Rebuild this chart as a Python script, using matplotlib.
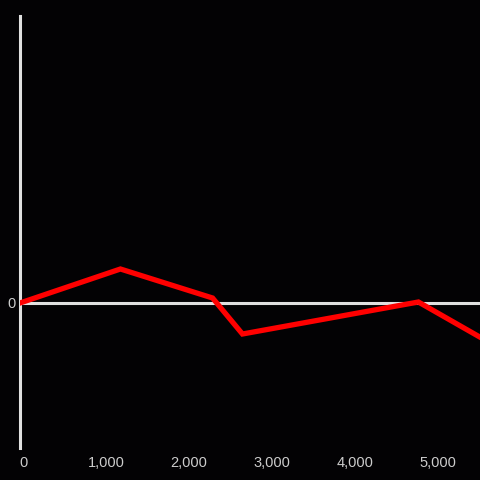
import matplotlib
matplotlib.use("Agg")
import matplotlib.pyplot as plt
import matplotlib.transforms as mtransforms
from matplotlib.ticker import FuncFormatter

# Data
x_values = [0, 1210, 2320, 2680, 4800, 5560]
y_values = [0, 34, 5, -31, 1, -35]
x_ticks = [0, 1000, 2000, 3000, 4000, 5000]

bg = "#030204"
axis_color = "#e0e0e0"
label_color = "#cccccc"

plt.rcParams["font.family"] = ["Liberation Sans", "DejaVu Sans"]

fig = plt.figure(figsize=(4.8, 4.8), dpi=100, facecolor=bg)
ax = fig.add_axes([20 / 480, 32 / 480, 460 / 480, 432 / 480], facecolor=bg)

# zero line
ax.axhline(0, color=axis_color, linewidth=2.2, zorder=1)

ax.plot(x_values, y_values, color="#ff0000", linewidth=3.8,
        solid_joinstyle="miter", zorder=3)

ax.set_xlim(0, 5542)
ax.set_ylim(-145, 287)

for side in ["top", "right", "bottom"]:
    ax.spines[side].set_visible(False)
ax.spines["left"].set_color(axis_color)
ax.spines["left"].set_linewidth(2.2)

ax.set_xticks(x_ticks)
ax.xaxis.set_major_formatter(FuncFormatter(lambda v, p: f"{int(v):,}"))
ax.set_yticks([0])
ax.tick_params(axis="both", length=0, colors=label_color, labelsize=10.5)
ax.tick_params(axis="x", pad=6)
ax.tick_params(axis="y", pad=3)

# nudge x labels a little to the right, like the reference
shift = mtransforms.ScaledTranslation(3 / 100, 0, fig.dpi_scale_trans)
for lbl in ax.get_xticklabels():
    lbl.set_transform(lbl.get_transform() + shift)

fig.savefig("out.png", dpi=100, facecolor=bg)
